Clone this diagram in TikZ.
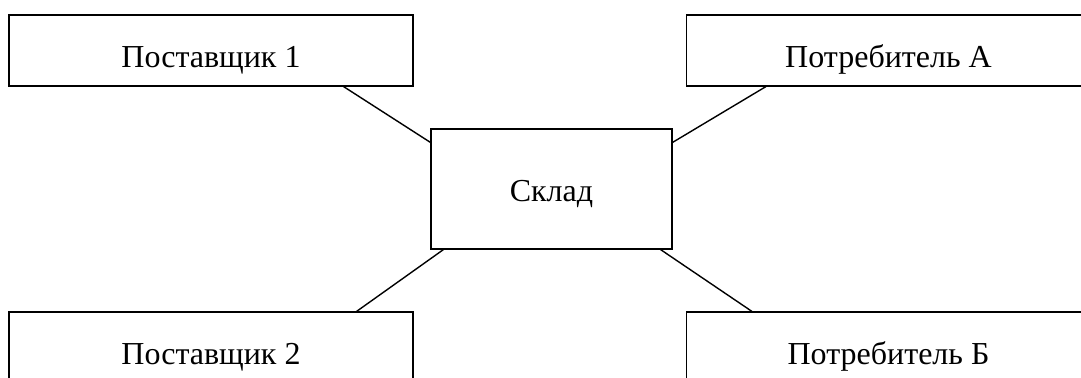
\documentclass[tikz,border=0pt]{standalone}
\usepackage{fontspec}
\setmainfont{Liberation Serif}
\usepackage{tikz}
\tikzset{block/.style={draw, line width=.6pt, minimum width=202pt, minimum height=35.5pt,
    inner sep=0pt, text height=17.5pt, text depth=0pt}}
\tikzset{link/.style={line width=.7pt}}

\begin{document}
\begin{tikzpicture}[font=\fontsize{16}{19}\selectfont,x=.5pt,y=-.5pt]

        \useasboundingbox (0,0) rectangle (1081,378);
        \clip (0,0) rectangle (1081,378);

        \node[block] (post1) at (211,50.5) {Поставщик 1};
        \node[block] (potrA) at (888.5,50.5) {Потребитель А};
        \node[block] (post2) at (211,347.5) {Поставщик 2};
        \node[block] (potrB) at (888.5,347.5) {Потребитель Б};

        \node[draw, line width=.6pt, minimum width=120.5pt, minimum height=60pt,
            inner sep=0pt, text height=13pt, text depth=0pt] (sklad) at (551.5,189) {Склад};

        \draw[link] ([xshift=-35pt]post1.south east) -- ([yshift=-7pt]sklad.north west);
        \draw[link] ([xshift=40pt]potrA.south west) -- ([yshift=-7pt]sklad.north east);
        \draw[link] ([xshift=6.5pt]sklad.south west) -- ([xshift=-28.5pt]post2.north east);
        \draw[link] ([xshift=-6pt]sklad.south east) -- ([xshift=33pt]potrB.north west);
    \end{tikzpicture}
\end{document}
